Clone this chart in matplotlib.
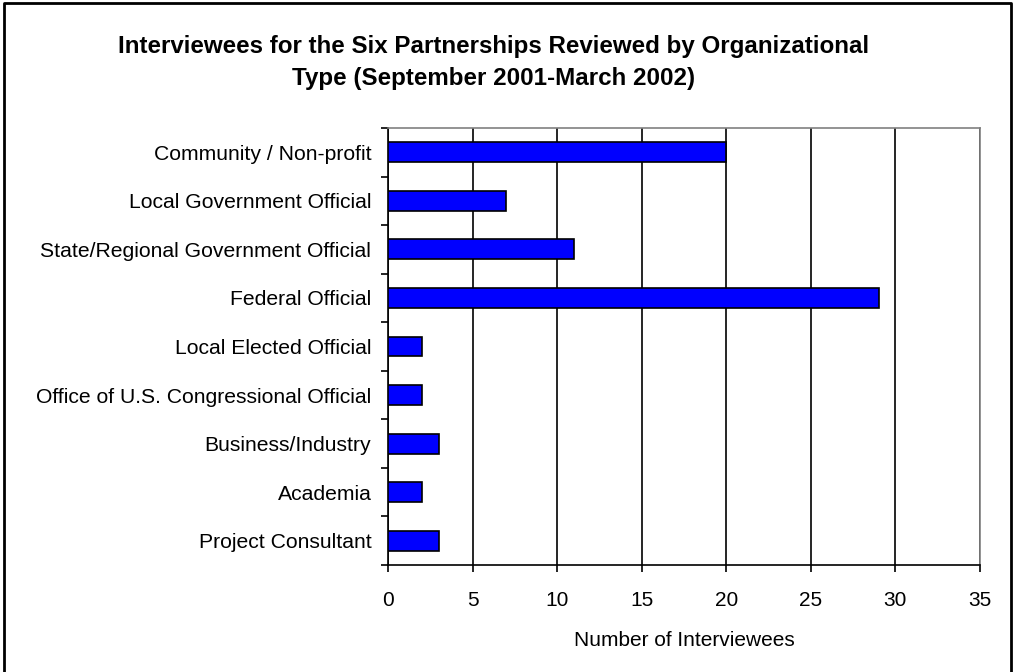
import numpy as np
import matplotlib.pyplot as plt
from matplotlib.lines import Line2D

plt.rcParams['font.family'] = ['Liberation Sans', 'DejaVu Sans']

categories = ["Community / Non-profit", "Local Government Official",
              "State/Regional Government Official", "Federal Official",
              "Local Elected Official", "Office of U.S. Congressional Official",
              "Business/Industry", "Academia", "Project Consultant"]
counts = [20, 7, 11, 29, 2, 2, 3, 2, 3]
xticks = [0, 5, 10, 15, 20, 25, 30, 35]

fig = plt.figure(figsize=(10.15, 6.72), dpi=100)
ax = fig.add_axes([388/1015, 1 - 565/672, (980-388)/1015, (565-128)/672])

n = len(categories)
ypos = np.arange(n)
ax.barh(ypos, counts, height=0.41, color='#0000ff', edgecolor='black',
        linewidth=1.2, zorder=3)

ax.set_xlim(0, 35)
ax.set_ylim(n - 0.5, -0.5)
ax.set_xticks(xticks)
ax.tick_params(axis='x', labelsize=15, length=5, width=1.2, pad=14,
               direction='out')
ax.xaxis.grid(True, color='black', linewidth=1.2, zorder=0)

# category labels at bar centres, ticks between categories
ax.set_yticks(ypos)
ax.set_yticklabels(categories)
ax.tick_params(axis='y', which='major', length=0, labelsize=15.2, pad=12)
ax.set_yticks(np.arange(n + 1) - 0.5, minor=True)
ax.tick_params(axis='y', which='minor', length=5, width=1.2)

for s in ['left', 'bottom']:
    ax.spines[s].set_color('black')
    ax.spines[s].set_linewidth(1.2)
for s in ['top', 'right']:
    ax.spines[s].set_color('#808080')
    ax.spines[s].set_linewidth(1.2)

ax.set_xlabel("Number of Interviewees", fontsize=15, labelpad=15)

fig.text(0.486, 1 - 62.5/672,
         "Interviewees for the Six Partnerships Reviewed by Organizational\nType (September 2001-March 2002)",
         ha='center', va='center', fontsize=17.4, fontweight='bold',
         linespacing=1.45)

# frame around the whole chart (open at the bottom edge)
fx = [4/1015, 4/1015, 1011/1015, 1011/1015]
fy = [0, 1 - 3/672, 1 - 3/672, 0]
fig.lines.append(Line2D(fx, fy, transform=fig.transFigure,
                        color='black', linewidth=2))

fig.savefig('out.png', dpi=100)
